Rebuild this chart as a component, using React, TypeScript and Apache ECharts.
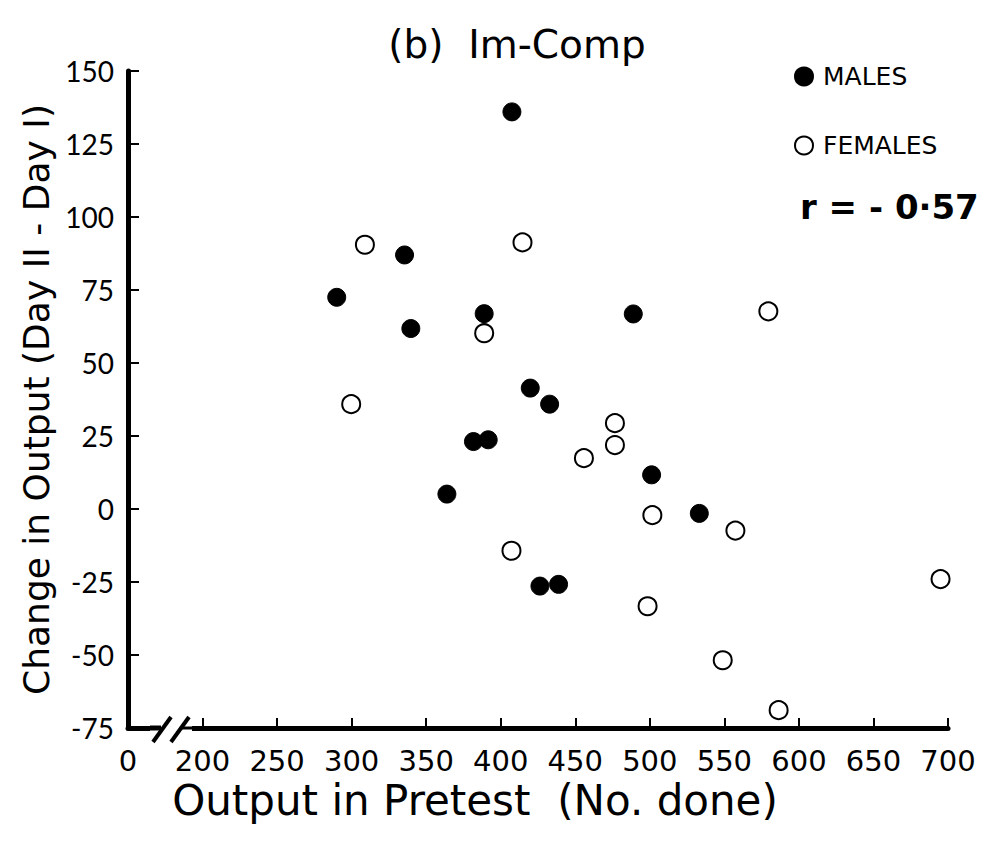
import React, { useEffect, useRef } from "react";
import * as echarts from "echarts";

// Output in pretest (No. done), change in output (Day II - Day I)
const malesX = [290, 335.5, 339.7, 388.9, 407.5, 419.8, 432.8, 381.7, 391.6, 363.9, 488.9, 501.2, 533.2, 426.3, 438.8];
const malesY = [72.5, 87, 61.8, 66.9, 136, 41.4, 35.9, 23.1, 23.7, 5.1, 66.8, 11.7, -1.5, -26.4, -25.8];
const femalesX = [308.9, 414.6, 388.9, 299.7, 476.6, 476.6, 455.8, 501.7, 407.2, 557.4, 498.5, 548.9, 586.4, 695, 579.5];
const femalesY = [90.5, 91.3, 60.2, 35.9, 29.4, 21.9, 17.4, -2.1, -14.3, -7.4, -33.3, -51.8, -68.9, -24.0, 67.7];

const xTickValues = [150, 200, 250, 300, 350, 400, 450, 500, 550, 600, 650, 700];
const xTickLabels = ["0", "200", "250", "300", "350", "400", "450", "500", "550", "600", "650", "700"];

const FONT = "DejaVu Sans";

export default function App() {
  const ref = useRef<HTMLDivElement>(null);
  useEffect(() => {
    if (!ref.current) return;
    const chart = echarts.init(ref.current, null, { renderer: "svg" });
    const males = malesX.map((x, i) => [x, malesY[i]]);
    const females = femalesX.map((x, i) => [x, femalesY[i]]);
    chart.setOption({
      animation: false,
      backgroundColor: "#ffffff",
      title: {
        text: "(b)  Im-Comp",
        left: 512,
        top: 20,
        textAlign: "center",
        textStyle: { fontFamily: FONT, fontSize: 39, fontWeight: 400, color: "#000" },
      },
      legend: {
        orient: "vertical",
        left: 789,
        top: 59,
        itemGap: 44,
        itemWidth: 18,
        itemHeight: 18,
        data: ["MALES", "FEMALES"],
        textStyle: { fontFamily: FONT, fontSize: 25, color: "#000", padding: [0, 0, 0, 5] },
      },
      grid: { left: 128, top: 71, width: 820, height: 657, containLabel: false },
      xAxis: {
        type: "value",
        min: 150,
        max: 700,
        interval: 50,
        name: "Output in Pretest  (No. done)",
        nameLocation: "middle",
        nameGap: 50,
        nameTextStyle: { fontFamily: FONT, fontSize: 42, color: "#000", padding: [0, 126, 0, 0] },
        axisLine: { onZero: false, lineStyle: { color: "#000", width: 5 } },
        axisTick: { inside: true, length: 10, lineStyle: { color: "#000", width: 2 } },
        splitLine: { show: false },
        axisLabel: {
          showMinLabel: true,
          margin: 18,
          fontFamily: FONT,
          fontSize: 29,
          color: "#000",
          formatter: (v: number) => {
            const idx = xTickValues.indexOf(v);
            return idx >= 0 ? xTickLabels[idx] : "";
          },
        },
      },
      yAxis: {
        type: "value",
        min: -75,
        max: 150,
        interval: 25,
        name: "Change in Output (Day II - Day I)",
        nameLocation: "middle",
        nameGap: 72,
        nameRotate: 90,
        nameTextStyle: { fontFamily: FONT, fontSize: 36, color: "#000" },
        axisLine: { onZero: false, lineStyle: { color: "#000", width: 5 } },
        axisTick: { inside: true, length: 11, lineStyle: { color: "#000", width: 2 } },
        splitLine: { show: false },
        axisLabel: { margin: 14, fontFamily: "Lato", fontSize: 28, color: "#000" },
      },
      graphic: [
        { type: "rect", shape: { x: 150, y: 722, width: 42, height: 12 }, style: { fill: "#fff" }, z: 100 },
        { type: "line", shape: { x1: 153, y1: 742, x2: 171, y2: 717 }, style: { stroke: "#000", lineWidth: 4 }, z: 101 },
        { type: "line", shape: { x1: 171, y1: 742, x2: 189, y2: 717 }, style: { stroke: "#000", lineWidth: 4 }, z: 101 },
        { type: "line", shape: { x1: 150, y1: 728, x2: 161, y2: 728 }, style: { stroke: "#000", lineWidth: 5 }, z: 101 },
        { type: "line", shape: { x1: 180, y1: 728, x2: 195, y2: 728 }, style: { stroke: "#000", lineWidth: 3 }, z: 101 },
        {
          type: "text",
          left: 800,
          top: 190,
          style: { text: "r = - 0·57", fontFamily: FONT, fontSize: 34, fontWeight: "bold", fill: "#000" },
        },
      ],
      series: [
        {
          name: "MALES",
          type: "scatter",
          data: males,
          symbol: "circle",
          symbolSize: 18,
          itemStyle: { color: "#000", opacity: 1, borderColor: "#000", borderWidth: 1 },
          z: 3,
        },
        {
          name: "FEMALES",
          type: "scatter",
          data: females,
          symbol: "circle",
          symbolSize: 18,
          itemStyle: { color: "#fff", opacity: 1, borderColor: "#000", borderWidth: 2 },
          z: 2,
        },
      ],
    });
    return () => chart.dispose();
  }, []);
  return <div ref={ref} style={{ position: "absolute", left: 0, top: 0, width: 981, height: 844 }} />;
}
